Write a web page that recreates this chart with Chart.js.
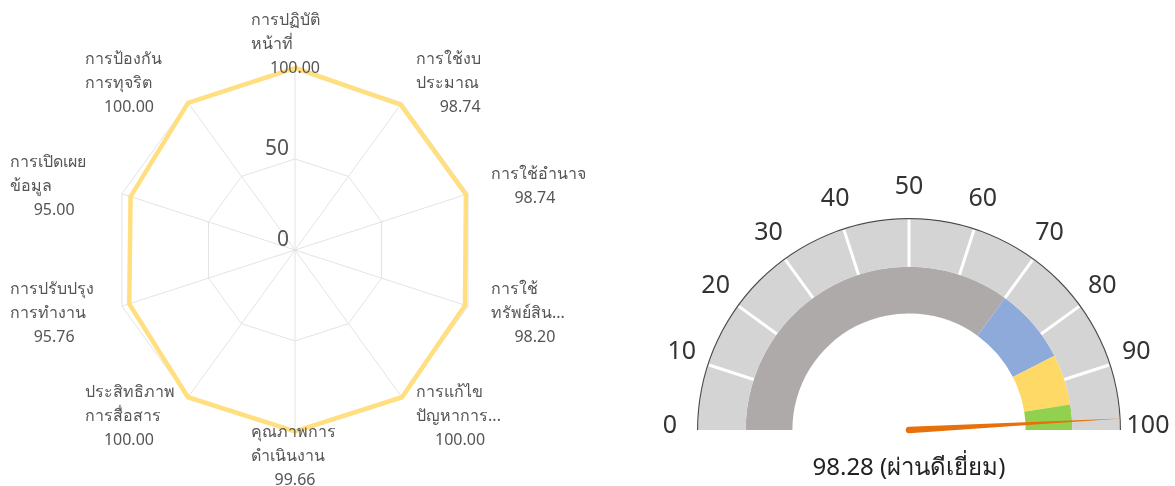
<!DOCTYPE html>
<html>
<head>
<meta charset="utf-8">
<script src="https://cdn.jsdelivr.net/npm/chart.js@4.4.1/dist/chart.umd.min.js"></script>
<style>
    html, body { margin: 0; padding: 0; background: #fff; }
    body { width: 1175px; height: 486px; position: relative; overflow: hidden; }
    #radarBox { position: absolute; left: 0; top: 0; width: 590px; height: 486px; }
    #gaugeBox { position: absolute; left: 640px; top: 160px; width: 535px; height: 326px; }
</style>
</head>
<body>
<div id="radarBox"><canvas id="radarChart"></canvas></div>
<div id="gaugeBox"><canvas id="gaugeChart"></canvas></div>
<script>
// Radar data
const radarLabels = [
    ['การปฏิบัติ', 'หน้าที่'],
    ['การใช้งบ', 'ประมาณ'],
    ['การใช้อำนาจ'],
    ['การใช้', 'ทรัพย์สิน...'],
    ['การแก้ไข', 'ปัญหาการ...'],
    ['คุณภาพการ', 'ดำเนินงาน'],
    ['ประสิทธิภาพ', 'การสื่อสาร'],
    ['การปรับปรุง', 'การทำงาน'],
    ['การเปิดเผย', 'ข้อมูล'],
    ['การป้องกัน', 'การทุจริต']
];
const radarScores = [100.00, 98.74, 98.74, 98.20, 100.00, 99.66, 100.00, 95.76, 95.00, 100.00];
const radarTicks = [0, 50, 100];

// Gauge data
const gaugeTicks = [0, 10, 20, 30, 40, 50, 60, 70, 80, 90, 100];
const gaugeSegments = [10, 10, 10, 10, 10, 10, 10, 10, 10, 10];
const bandSizes = [70, 15, 10, 5];
const gaugeScore = 98.28;
const gaugeGrade = 'ผ่านดีเยี่ยม';

const FONT = '"Noto Sans", "Open Sans", sans-serif';
const LABEL_BOX = 88;

// point labels + tick labels drawn by hand so the layout matches
const radarLabelPlugin = {
    id: 'radarLabels',
    afterDraw(chart) {
        const scale = chart.scales.r;
        const ctx = chart.ctx;
        ctx.save();
        ctx.fillStyle = '#555';
        ctx.textBaseline = 'middle';
        ctx.font = '16px ' + FONT;
        radarLabels.forEach((names, i) => {
            const p = scale.getPointPosition(i, scale.drawingArea + 24);
            const dx = p.x - scale.xCenter;
            let left;
            if (Math.abs(dx) < 4) left = p.x - LABEL_BOX / 2;
            else if (dx > 0) left = p.x;
            else left = p.x - LABEL_BOX - 1;
            let y = p.y - names.length * 12;
            ctx.textAlign = 'left';
            names.forEach(t => {
                ctx.fillText(t, left, y);
                y += 24;
            });
            ctx.textAlign = 'center';
            ctx.fillText(radarScores[i].toFixed(2), left + LABEL_BOX / 2, y);
        });

        ctx.font = '21px ' + FONT;
        ctx.textAlign = 'right';
        radarTicks.forEach(v => {
            if (v >= scale.max) return;
            const d = scale.getDistanceFromCenterForValue(v);
            ctx.fillText(String(v), scale.xCenter - 6, scale.yCenter - d - 10);
        });
        ctx.restore();
    }
};

new Chart(document.getElementById('radarChart'), {
    type: 'radar',
    data: {
        labels: radarLabels,
        datasets: [{
            data: radarScores,
            borderColor: '#ffdf7f',
            borderWidth: 4.5,
            fill: false,
            pointRadius: 0,
            tension: 0
        }]
    },
    options: {
        responsive: true,
        maintainAspectRatio: false,
        animation: false,
        events: [],
        layout: { padding: { left: 113, right: 113, top: 68, bottom: 54 } },
        plugins: { legend: { display: false }, tooltip: { enabled: false } },
        scales: {
            r: {
                min: radarTicks[0],
                max: radarTicks[radarTicks.length - 1],
                ticks: { display: false, stepSize: radarTicks[1] - radarTicks[0] },
                grid: { color: '#e3e3e3', lineWidth: 1 },
                angleLines: { color: '#e3e3e3', lineWidth: 1 },
                pointLabels: { display: false }
            }
        }
    },
    plugins: [radarLabelPlugin]
});

// Gauge: separators, tick labels, needle and caption
const gaugePlugin = {
    id: 'gaugeDecor',
    afterDatasetsDraw(chart) {
        const ctx = chart.ctx;
        const outline = chart.getDatasetMeta(0).data[0];
        const ring = chart.getDatasetMeta(1).data;
        const cx = outline.x, cy = outline.y;
        const start = ring[0].startAngle;
        const end = ring[ring.length - 1].endAngle;
        const lo = gaugeTicks[0], hi = gaugeTicks[gaugeTicks.length - 1];
        const angleOf = v => start + (end - start) * (v - lo) / (hi - lo);

        ctx.save();
        ctx.strokeStyle = '#fff';
        ctx.lineWidth = 3;
        ring.slice(1).forEach(arc => {
            const a = arc.startAngle;
            ctx.beginPath();
            ctx.moveTo(cx + Math.cos(a) * arc.innerRadius, cy + Math.sin(a) * arc.innerRadius);
            ctx.lineTo(cx + Math.cos(a) * (arc.outerRadius - 0.5), cy + Math.sin(a) * (arc.outerRadius - 0.5));
            ctx.stroke();
        });

        ctx.fillStyle = '#333';
        ctx.font = '25px ' + FONT;
        ctx.textAlign = 'center';
        ctx.textBaseline = 'middle';
        gaugeTicks.forEach(v => {
            const a = angleOf(v);
            const r = outline.outerRadius + 27;
            ctx.fillText(String(v), cx + Math.cos(a) * r, cy + Math.sin(a) * r - 4);
        });

        // needle
        const a = angleOf(gaugeScore);
        const tipR = outline.outerRadius + 1;
        const hw = 3.2;
        const nx = -Math.sin(a), ny = Math.cos(a);
        ctx.fillStyle = '#e8700a';
        ctx.beginPath();
        ctx.moveTo(cx + nx * hw, cy + ny * hw);
        ctx.lineTo(cx + Math.cos(a) * tipR, cy + Math.sin(a) * tipR);
        ctx.lineTo(cx - nx * hw, cy - ny * hw);
        ctx.arc(cx, cy, hw, a - Math.PI / 2, a + Math.PI / 2, true);
        ctx.closePath();
        ctx.fill();

        ctx.fillStyle = '#222';
        ctx.font = '24px ' + FONT;
        ctx.fillText(gaugeScore.toFixed(2) + ' (' + gaugeGrade + ')', cx, cy + 38);
        ctx.restore();
    }
};

new Chart(document.getElementById('gaugeChart'), {
    type: 'doughnut',
    data: {
        datasets: [
            { data: [hiValue()], backgroundColor: ['#4d4d4d'], borderWidth: 0, weight: 1.2 },
            { data: gaugeSegments, backgroundColor: '#d4d4d4', borderWidth: 0, weight: 47.5 },
            { data: bandSizes, backgroundColor: ['#aeaaaa', '#8eaadb', '#ffd966', '#92d050'], borderWidth: 0, weight: 46.7 }
        ]
    },
    options: {
        responsive: true,
        maintainAspectRatio: false,
        animation: false,
        events: [],
        rotation: -90,
        circumference: 180,
        cutout: '55%',
        layout: { padding: { left: 57, right: 54, top: 58, bottom: 56 } },
        plugins: { legend: { display: false }, tooltip: { enabled: false } }
    },
    plugins: [gaugePlugin]
});

function hiValue() {
    return gaugeTicks[gaugeTicks.length - 1] - gaugeTicks[0];
}
</script>
</body>
</html>
